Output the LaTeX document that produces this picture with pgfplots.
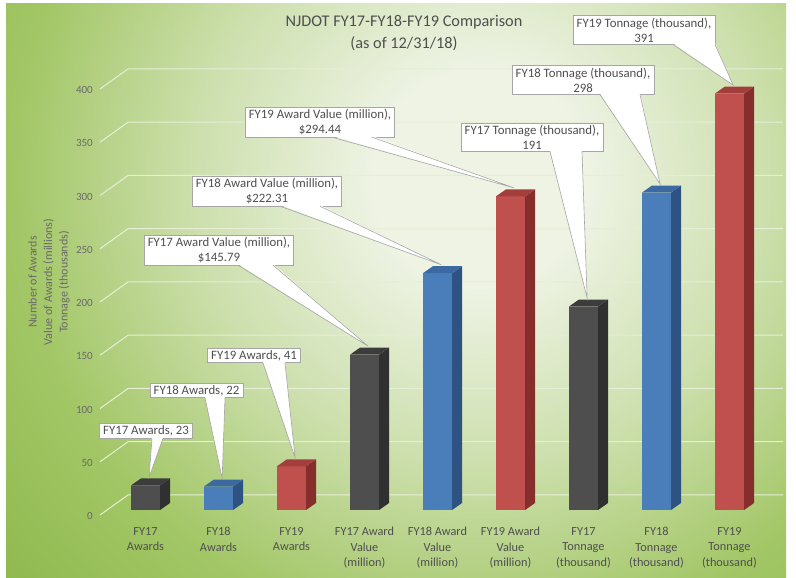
\documentclass[border=0pt]{standalone}
\usepackage{pgfplots}
\pgfplotsset{compat=1.18}
\usepackage{pgfplotstable}
\usetikzlibrary{calc}
\usepackage{fontspec}
\setmainfont{Carlito}

\definecolor{txt}{HTML}{4F4F4F}
\definecolor{tickc}{HTML}{6A6A6A}
\definecolor{bglight}{HTML}{EEF3E4}
\definecolor{bgmid}{HTML}{CCDFAC}
\definecolor{bggreen}{HTML}{A2C665}
\definecolor{bgdark}{HTML}{8CB84C}
\definecolor{gridc}{HTML}{E6EED6}
\definecolor{cborder}{HTML}{A6A6A6}
\definecolor{front0}{HTML}{4E4E4E}
\definecolor{side0}{HTML}{303030}
\definecolor{top0}{HTML}{3C3C3C}
\definecolor{front1}{HTML}{4A7EBB}
\definecolor{side1}{HTML}{2E5382}
\definecolor{top1}{HTML}{3C69A2}
\definecolor{front2}{HTML}{C0504D}
\definecolor{side2}{HTML}{862E2C}
\definecolor{top2}{HTML}{A23F3C}

% radius 900pt circle: 25bp <-> 900pt, so 1bp = 36pt
\pgfdeclareradialshading{bgshade}{\pgfpointorigin}{color(0bp)=(bglight); color(3bp)=(bglight); color(8bp)=(bgmid); color(13bp)=(bggreen); color(18bp)=(bgdark); color(50bp)=(bgdark)}

\pgfplotstableread{
idx val
0 23
1 22
2 41
3 145.79
4 222.31
5 294.44
6 191
7 298
8 391
}\bardata

\tikzset{cbox/.style={fill=white, draw=cborder, line width=0.6pt, inner xsep=3.5pt, inner ysep=2pt, align=center, font=\fontsize{12.8}{15}\selectfont, text=txt}}

% #1 cx(px) #2 cy(px) #3 text #4 base left x #5 base right x #6 tip
\newcommand\callout[6]{%
  \node[cbox] (cb) at (#1,{578-#2}) {#3};
  \coordinate (cbs) at (cb.south);
  \fill[white] ($(#4,0 |- cbs)+(0,1.2)$) -- (#6) -- ($(#5,0 |- cbs)+(0,1.2)$) -- cycle;
  \draw[cborder, line width=0.6pt] (#4,0 |- cbs) -- (#6) -- (#5,0 |- cbs);
}

\begin{document}
\begin{tikzpicture}[x=1pt,y=1pt]
\useasboundingbox (0,0) rectangle (796,578);
\fill[white] (0,0) rectangle (796,578);
\begin{scope}
\clip (6,0) rectangle (786,574);
\shade[shading=bgshade] (480,400) circle (900);
\end{scope}

% 3D gridlines (back wall + side wall)
\foreach \v in {0,50,...,400} {
  \pgfmathsetmacro\Y{68+1.065*\v}
  \draw[gridc, line width=1pt] (100,\Y-5) -- (128,\Y+15) -- (783,\Y+15);
}

\begin{axis}[
  at={(100pt,68pt)}, anchor=south west,
  scale only axis, width=683pt, height=447.3pt,
  xmin=-0.6233, xmax=8.7329, ymin=0, ymax=420,
  axis line style={draw=none}, tick style={draw=none},
  clip=false, no markers,
  ytick={0,50,...,400},
  /pgf/number format/assume math mode=true,
  yticklabel style={font=\fontsize{11}{12}\selectfont, text=tickc, anchor=east, inner sep=0pt, xshift=-7pt, yshift=-6pt},
  xtick={0,...,8},
  xticklabels={{FY17\\Awards},{FY18\\Awards},{FY19\\Awards},{FY17 Award\\Value\\(million)},{FY18 Award\\Value\\(million)},{FY19 Award\\Value\\(million)},{FY17\\Tonnage\\(thousand)},{FY18\\Tonnage\\(thousand)},{FY19\\Tonnage\\(thousand)}},
  xticklabel style={align=center, font=\fontsize{12.3}{15.5}\selectfont, text=txt, inner sep=0pt, anchor=north, yshift=-17pt},
]
\pgfplotsforeachungrouped \i in {0,...,8}{%
  \pgfplotstablegetelem{\i}{val}\of\bardata
  \let\myv=\pgfplotsretval
  \pgfmathtruncatemacro\mycol{mod(\i,3)}
  \pgfmathsetmacro\xl{\i-0.2}
  \pgfmathsetmacro\xr{\i+0.2}
  \pgfmathsetmacro\xbr{\i+0.337}
  \pgfmathsetmacro\xbl{\i-0.063}
  \pgfmathsetmacro\vt{\myv+6.6}
  \pgfmathsetmacro\xt{\i+0.05}
  \pgfmathsetmacro\vtip{\myv+8}
  \edef\drawbar{%
    \noexpand\addplot[fill=front\mycol, draw=none] coordinates {(\xl,0) (\xr,0) (\xr,\myv) (\xl,\myv)};
    \noexpand\addplot[fill=side\mycol, draw=none] coordinates {(\xr,0) (\xbr,6.6) (\xbr,\vt) (\xr,\myv)};
    \noexpand\addplot[fill=top\mycol, draw=none] coordinates {(\xl,\myv) (\xr,\myv) (\xbr,\vt) (\xbl,\vt)};
    \noexpand\coordinate (tip\i) at (axis cs:\xt,\vtip);
  }%
  \drawbar
}
\end{axis}

% axis title
\node[rotate=90, align=center, font=\fontsize{12}{15.5}\selectfont, text=tickc] at (49,{578-282}) {Number of Awards\\Value of Awards (millions)\\Tonnage (thousands)};

% chart title
\node[align=center, font=\fontsize{16.3}{22}\selectfont, text=txt] at (404,{578-33}) {NJDOT FY17-FY18-FY19 Comparison\\(as of 12/31/18)};

% callouts
\callout{146}{431}{FY17 Awards, 23}{152}{163}{tip0}
\callout{196.5}{390.5}{FY18 Awards, 22}{205}{225}{tip1}
\callout{254}{355.5}{FY19 Awards, 41}{263}{285}{tip2}
\callout{219}{250}{FY17 Award Value (million),\\\$145.79}{238}{273}{tip3}
\callout{267}{191}{FY18 Award Value (million),\\\$222.31}{280}{320}{tip4}
\callout{320}{122}{FY19 Award Value (million),\\\$294.44}{332}{372}{tip5}
\callout{532}{137}{FY17 Tonnage (thousand),\\191}{550}{582}{tip6}
\callout{583}{80}{FY18 Tonnage (thousand),\\298}{600}{640}{tip7}
\callout{644}{30}{FY19 Tonnage (thousand),\\391}{673}{715}{tip8}
\end{tikzpicture}
\end{document}
